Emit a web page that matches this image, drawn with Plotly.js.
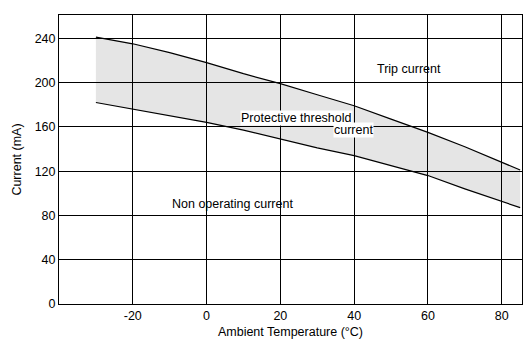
<!DOCTYPE html>
<html><head><meta charset="utf-8">
<script src="https://cdn.plot.ly/plotly-3.0.1.min.js"></script>
<style>html,body{margin:0;padding:0;background:#fff}#c{width:524px;height:339px}</style>
</head><body><div id="c"></div>
<script>
const temps = [-30, -20, -10, 0, 10, 20, 30, 40, 50, 60, 70, 80, 85];
const tripCurrent = [241, 235, 227, 218, 208, 199, 189, 179, 167, 155, 142, 128, 121];
const nonOperating = [182, 176, 170, 164, 157, 149, 141, 134, 125, 116, 104, 93, 87];
const xTicks = [-20, 0, 20, 40, 60, 80];
const xTickText = ["-20", "0", "20", "40", "60", "80"];
const yTicks = [0, 40, 80, 120, 160, 200, 240];
const labels = ["Trip current", "Protective threshold", "current", "Non operating current"];

const font = {family: "Liberation Sans, Arial, sans-serif", size: 12.5, color: "#000"};
const data = [
  {x: temps, y: nonOperating, mode: "lines", line: {color: "#000", width: 1.2}, hoverinfo: "skip"},
  {x: temps, y: tripCurrent, mode: "lines", line: {color: "#000", width: 1.2}, fill: "tonexty", fillcolor: "rgba(0,0,0,0.1)", hoverinfo: "skip"}
];
const layout = {
  width: 524, height: 339,
  margin: {l: 59, r: 2, t: 15, b: 35},
  showlegend: false,
  paper_bgcolor: "#fff", plot_bgcolor: "#fff",
  font: font,
  xaxis: {range: [-40, 85.5], tickvals: xTicks, ticktext: xTickText, showgrid: true, gridcolor: "#000", gridwidth: 1,
    zeroline: false, showline: true, mirror: true, linecolor: "#000", linewidth: 1, ticks: "",
    title: {text: "Ambient Temperature (°C)", font: font, standoff: 6}},
  yaxis: {range: [0, 261], tickvals: yTicks, showgrid: true, gridcolor: "#000", gridwidth: 1,
    zeroline: false, showline: true, mirror: true, linecolor: "#000", linewidth: 1, ticks: "",
    title: {text: "Current (mA)", font: font, standoff: 10}},
  annotations: [
    {x: 55, y: 212, text: labels[0], showarrow: false, font: font, xanchor: "center"},
    {x: 24.3, y: 168, text: labels[1], showarrow: false, font: font, bgcolor: "#fff", borderpad: 0, xanchor: "center"},
    {x: 39.7, y: 157, text: labels[2], showarrow: false, font: font, bgcolor: "#fff", borderpad: 0, xanchor: "center"},
    {x: 7, y: 90, text: labels[3], showarrow: false, font: font, xanchor: "center"}
  ]
};
Plotly.newPlot("c", data, layout, {staticPlot: true, displayModeBar: false});
</script></body></html>
